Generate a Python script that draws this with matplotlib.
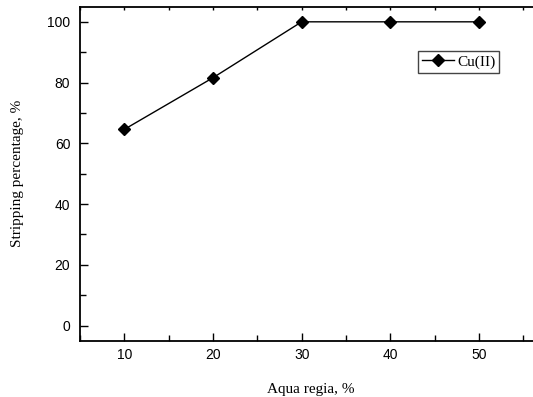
import matplotlib
matplotlib.use("Agg")
import matplotlib.pyplot as plt
from matplotlib.ticker import MultipleLocator

# data
aqua_regia = [10, 20, 30, 40, 50]
stripping = [64.6, 81.6, 100.0, 100.0, 100.0]

fig = plt.figure(figsize=(5.33, 3.97), dpi=100)
ax = fig.add_axes([0.1501, 0.1415, 0.8651, 0.8418])

ax.plot(aqua_regia, stripping, color="black", linewidth=1.0,
        marker="D", markersize=6.3, markerfacecolor="black",
        markeredgecolor="black", label="Cu(II)")

ax.set_xlim(5, 57)
ax.set_ylim(-5, 105)
ax.xaxis.set_major_locator(MultipleLocator(10))
ax.xaxis.set_minor_locator(MultipleLocator(5))
ax.yaxis.set_major_locator(MultipleLocator(20))
ax.yaxis.set_minor_locator(MultipleLocator(10))

ax.tick_params(which="both", direction="in", right=False,
               width=1.0, labelsize=10)
ax.tick_params(which="major", length=6)
ax.tick_params(which="minor", length=4)
ax.tick_params(axis="x", pad=5)
ax.tick_params(axis="y", pad=7)
# tiny marks on the top frame
ax.tick_params(axis="x", which="both", top=True)
for t in ax.xaxis.get_major_ticks() + ax.xaxis.get_minor_ticks():
    t.tick2line.set_markersize(2)
for lab in ax.get_xticklabels() + ax.get_yticklabels():
    lab.set_fontfamily("Liberation Sans")

for s in ax.spines.values():
    s.set_linewidth(1.3)
ax.spines["right"].set_visible(False)

ax.set_xlabel("Aqua regia, %", fontfamily="Liberation Serif", fontsize=11,
              labelpad=15)
ax.set_ylabel("Stripping percentage, %", fontfamily="Liberation Serif",
              fontsize=11, labelpad=17)

leg = ax.legend(loc="upper left", bbox_to_anchor=(0.733, 0.867),
                prop={"family": "Liberation Serif", "size": 11},
                fancybox=False, edgecolor="#444444", framealpha=1,
                borderpad=0.25, handlelength=2.1, handletextpad=0.2,
                borderaxespad=0)
leg.get_frame().set_linewidth(1.0)

fig.savefig("out.png", dpi=100)
